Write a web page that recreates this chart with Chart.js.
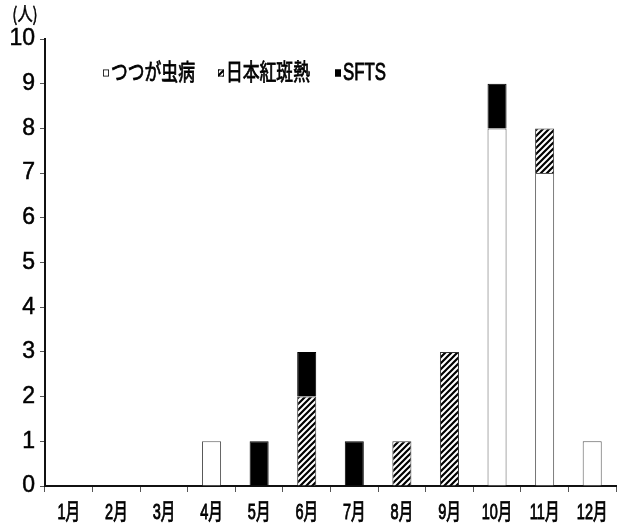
<!DOCTYPE html>
<html><head><meta charset="utf-8">
<script src="https://cdn.jsdelivr.net/npm/chart.js@4/dist/chart.umd.min.js"></script>
<style>html,body{margin:0;padding:0;background:#fff}#wrap{width:626px;height:526px}</style>
</head><body><div id="wrap"><canvas id="c" width="626" height="526"></canvas></div>
<script>
const months = ['1月','2月','3月','4月','5月','6月','7月','8月','9月','10月','11月','12月'];
const seriesNames = ['つつが虫病','日本紅斑熱','SFTS'];
const tsutsugamushi = [0,0,0,1,0,0,0,0,0,8,7,1];
const japaneseSpotted = [0,0,0,0,0,2,0,1,3,0,1,0];
const sfts = [0,0,0,0,1,1,1,0,0,1,0,0];
const yTicks = [0,1,2,3,4,5,6,7,8,9,10];
const unitLabel = '(人)';

const NARROW = "'Liberation Sans Narrow', 'Liberation Sans', 'Noto Sans CJK JP', sans-serif";
const SANS = "'Liberation Sans', 'Noto Sans CJK JP', sans-serif";

// category scale whose labels are drawn horizontally condensed
class CondensedCategoryScale extends Chart.CategoryScale {
  _computeLabelItems(chartArea) {
    const items = super._computeLabelItems(chartArea);
    const ctx = this.ctx;
    ctx.save();
    items.forEach(it => {
      ctx.font = it.font.string;
      const w = ctx.measureText(String(it.label)).width;
      it.options.maxWidth = w * 0.66;
    });
    ctx.restore();
    return items;
  }
}
CondensedCategoryScale.id = 'condensedCategory';
CondensedCategoryScale.defaults = Chart.CategoryScale.defaults;
Chart.register(CondensedCategoryScale);

function hatch(){
  const s = 6, p = document.createElement('canvas');
  p.width = s; p.height = s;
  const g = p.getContext('2d');
  g.fillStyle = '#fff'; g.fillRect(0,0,s,s);
  g.strokeStyle = '#000'; g.lineWidth = 2.2;
  g.beginPath();
  g.moveTo(-1, s+1); g.lineTo(s+1, -1);
  g.moveTo(-1, 1); g.lineTo(1, -1);
  g.moveTo(s-1, s+1); g.lineTo(s+1, s-1);
  g.stroke();
  return g.createPattern(p, 'repeat');
}
const hatchPat = hatch();
const fills = ['#ffffff', hatchPat, '#000000'];

const bw = c => (c.raw ? 1 : 0);

const overlay = {
  id: 'overlay',
  afterDraw(chart){
    const ctx = chart.ctx, a = chart.chartArea;
    ctx.save();
    ctx.fillStyle = '#000';
    ctx.strokeStyle = '#000';
    ctx.textBaseline = 'middle';
    // unit label
    ctx.save();
    ctx.translate(a.left - 20, a.top - 25);
    ctx.scale(0.8, 1);
    ctx.font = "19px 'Noto Sans CJK JP', sans-serif";
    ctx.textAlign = 'center';
    ctx.lineWidth = 0.5;
    ctx.fillText(unitLabel, 0, 0);
    ctx.strokeText(unitLabel, 0, 0);
    ctx.restore();
    // legend
    const y = a.top + 34;
    const xs = [a.left + 58, a.left + 173, a.left + 290];
    seriesNames.forEach((name, i) => {
      const bx = xs[i];
      ctx.fillStyle = fills[i];
      ctx.fillRect(bx, y - 3.5, 6, 7);
      ctx.strokeStyle = '#000'; ctx.lineWidth = 0.8;
      ctx.strokeRect(bx + 0.4, y - 3.1, 5.2, 6.2);
      ctx.save();
      ctx.fillStyle = '#000';
      ctx.translate(bx + 8, y + 1);
      ctx.scale(0.73, 1);
      ctx.font = "23px " + SANS;
      ctx.textAlign = 'left';
      ctx.lineWidth = 0.8;
      ctx.fillText(name, 0, 0);
      ctx.strokeText(name, 0, 0);
      ctx.restore();
    });
    ctx.restore();
  }
};

new Chart(document.getElementById('c'), {
  type: 'bar',
  data: {
    labels: months,
    datasets: [
      {label: seriesNames[0], data: tsutsugamushi, backgroundColor: fills[0], borderColor: '#555', borderWidth: bw},
      {label: seriesNames[1], data: japaneseSpotted, backgroundColor: fills[1], borderColor: '#333', borderWidth: bw},
      {label: seriesNames[2], data: sfts, backgroundColor: fills[2], borderColor: '#000', borderWidth: bw}
    ]
  },
  options: {
    responsive: false,
    animation: false,
    layout: {padding: {top: 39, right: 10, left: 0, bottom: 0}},
    plugins: {legend: {display: false}, tooltip: {enabled: false}},
    datasets: {bar: {categoryPercentage: 0.8, barPercentage: 0.5}},
    scales: {
      x: {
        type: 'condensedCategory',
        stacked: true,
        afterFit: s => { s.height = 40; },
        border: {display: true, color: '#111', width: 2},
        grid: {display: true, drawOnChartArea: false, drawTicks: true, tickLength: 6, color: '#555', lineWidth: 1, offset: true},
        ticks: {color: '#000', padding: 8, maxRotation: 0, autoSkip: false, textStrokeColor: '#000', textStrokeWidth: 0.9, font: {family: SANS, size: 22}}
      },
      y: {
        stacked: true,
        min: 0, max: 10,
        afterFit: s => { s.width = 45; },
        afterBuildTicks: s => { s.ticks = yTicks.map(v => ({value: v})); },
        border: {display: true, color: '#111', width: 2},
        grid: {display: true, drawOnChartArea: false, drawTicks: true, tickLength: 5, color: '#555', lineWidth: 1},
        ticks: {color: '#000', padding: 5, textStrokeColor: '#000', textStrokeWidth: 0.5, font: {family: NARROW, size: 23}}
      }
    }
  },
  plugins: [overlay]
});
</script></body></html>
